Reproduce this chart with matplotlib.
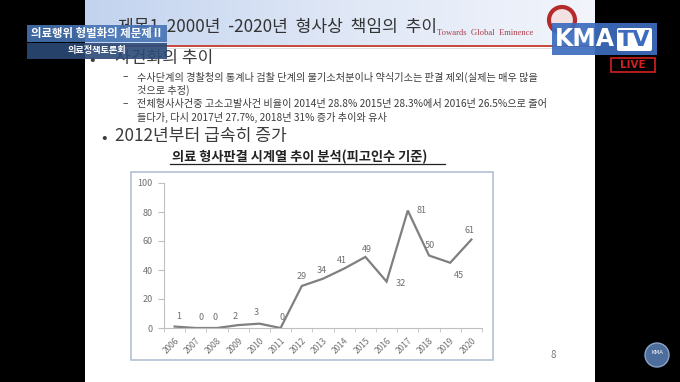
import numpy as np
import matplotlib
matplotlib.use('Agg')
import matplotlib.pyplot as plt
from matplotlib.patches import Rectangle, Circle, FancyBboxPatch
from matplotlib.colors import LinearSegmentedColormap

plt.rcParams['font.family'] = ['Noto Sans CJK KR', 'DejaVu Sans']

years = ['2006', '2007', '2008', '2009', '2010', '2011', '2012', '2013',
         '2014', '2015', '2016', '2017', '2018', '2019', '2020']
cases = [1, 0, 0, 2, 3, 0, 29, 34, 41, 49, 32, 81, 50, 45, 61]
y_ticks = [0, 20, 40, 60, 80, 100]

chart_title = '의료 형사판결 시계열 추이 분석(피고인수 기준)'
slide_title = '제목1  2000년  -2020년  형사상  책임의  추이'
bullet1 = '사건화의 추이'
sub_lines = [
    '수사단계의 경찰청의 통계나 검찰 단계의 불기소처분이나 약식기소는 판결 제외(실제는 매우 많을',
    '것으로 추정)',
    '전체형사사건중 고소고발사건 비율이 2014년 28.8% 2015년 28.3%에서 2016년 26.5%으로 줄어',
    '들다가, 다시 2017년 27.7%, 2018년 31% 증가 추이와 유사',
]
bullet2 = '2012년부터 급속히 증가'

# label offsets in pixels (dx, dy), dy positive = downwards
label_offsets = [(4, -10), (5, -10), (-2, -10), (-3, -9), (-3, -11), (1, -10),
                 (0, -9), (-1, -8), (-2, -8), (1, -7), (14, 2), (14, 0),
                 (1, -10), (9, 13), (-2, -9)]

W, H = 680, 382
fig = plt.figure(figsize=(W / 100, H / 100), dpi=100)
fig.patch.set_facecolor('black')

bg = fig.add_axes([0, 0, 1, 1])
bg.set_xlim(0, W)
bg.set_ylim(H, 0)
bg.axis('off')

# slide background
bg.add_patch(Rectangle((85, 0), 510, H, facecolor='white', edgecolor='none', zorder=0))
grad = np.linspace(0, 1, 256).reshape(1, -1)
hdr_cmap = LinearSegmentedColormap.from_list('hdr', ['#c2d3ef', '#dfe7f6', '#f2f5fb'])
bg.imshow(grad, cmap=hdr_cmap, extent=[85, 595, 45, 0], aspect='auto', zorder=1)
bg.plot([85, 595], [46, 46], color='#c0392b', lw=1.3, zorder=2)
bg.plot([85, 595], [48, 48], color='#d8d8d8', lw=0.6, zorder=2)

# header text
bg.text(118, 27, slide_title, fontsize=12.3, color='#333333', va='center', zorder=3)
bg.text(437, 33, 'Towards  Global  Eminence', fontsize=6.2, color='#a8404c',
        family='Liberation Serif', va='center', zorder=3)
bg.add_patch(Circle((562, 20), 13, facecolor='#f4e2e2', edgecolor='#b52b2b', lw=3, zorder=3))

# body text
body = '#3c3c3c'
bg.text(89, 60, '•', fontsize=12, color=body, va='center', zorder=3)
bg.text(115, 58, bullet1, fontsize=12.3, color=body, va='center', zorder=3)
for yy, txt, dash in zip([77, 90, 104, 117], sub_lines, [True, False, True, False]):
    if dash:
        bg.text(123, yy, '–', fontsize=7.3, color=body, va='center', zorder=3)
    bg.text(137, yy, txt, fontsize=7.3, color=body, va='center', zorder=3)
bg.text(101, 138, '•', fontsize=12, color=body, va='center', zorder=3)
bg.text(115, 136, bullet2, fontsize=12.3, color=body, va='center', zorder=3)

bg.text(300, 157, chart_title, fontsize=9.5, fontweight='bold', color='#222222',
        ha='center', va='center', zorder=3)
bg.plot([170, 445], [164, 164], color='#222222', lw=0.9, zorder=3)

# chart frame
bg.add_patch(Rectangle((131, 172), 362, 188, facecolor='white', edgecolor='#b4c0d6',
                       lw=1.2, zorder=2))
bg.text(553, 355, '8', fontsize=7, color='#777777', ha='center', va='center', zorder=3)

# overlays
bg.add_patch(Rectangle((27, 25), 140, 17, facecolor='#4573b3', alpha=0.9, edgecolor='none', zorder=5))
bg.text(97, 33.5, '의료행위 형벌화의 제문제Ⅱ', fontsize=8.2, fontweight='bold', color='white',
        ha='center', va='center', zorder=6)
bg.add_patch(Rectangle((27, 43), 140, 16, facecolor='#2b4a78', alpha=0.9, edgecolor='none', zorder=5))
bg.text(97, 50.5, '의료정책토론회', fontsize=6.6, fontweight='bold', color='white',
        ha='center', va='center', zorder=6)

bg.add_patch(Rectangle((552, 23), 105, 32, facecolor='#3d6cbf', alpha=0.92, edgecolor='none', zorder=5))
bg.text(585, 39.5, 'KMA', fontsize=17, fontweight='bold', color='white', family='DejaVu Sans',
        ha='center', va='center', zorder=6)
bg.add_patch(FancyBboxPatch((617, 28), 35, 23, boxstyle='round,pad=0,rounding_size=2',
                            facecolor='white', edgecolor='none', zorder=6))
bg.text(634.5, 39.5, 'TV', fontsize=16, fontweight='bold', color='#3d6cbf', family='DejaVu Sans',
        ha='center', va='center', zorder=7)
bg.add_patch(Rectangle((611, 58), 44, 14, facecolor='none', edgecolor='#d32020', lw=1.2, zorder=5))
bg.text(633, 65.5, 'LIVE', fontsize=7.5, fontweight='bold', color='#d32020', family='DejaVu Sans',
        ha='center', va='center', zorder=6)
bg.add_patch(Circle((657, 355), 12, facecolor='#4d6d9c', edgecolor='#8aa3c8', lw=1, zorder=5))
bg.text(657, 352, 'KMA', fontsize=4, color='white', family='DejaVu Sans',
        ha='center', va='center', zorder=6)

# chart axes
ax = fig.add_axes([164 / W, 1 - 328 / H, (482 - 164) / W, (328 - 183) / H])
ax.patch.set_alpha(0)
x = np.arange(len(years))
ax.plot(x, cases, color='#7f7f7f', lw=1.6, solid_joinstyle='miter')
for xi, v, (dx, dy) in zip(x, cases, label_offsets):
    ax.annotate(str(v), (xi, v), xytext=(dx * 0.72, -dy * 0.72), textcoords='offset points',
                ha='center', va='center', fontsize=6.5, color='#707070')

ax.set_xlim(-0.5, len(years) - 0.5)
ax.set_ylim(0, 100)
ax.set_yticks(y_ticks)
ax.set_yticklabels([str(t) for t in y_ticks])
ax.set_xticks(x)
ax.set_xticklabels(years, rotation=45, ha='right', rotation_mode='anchor')
ax.set_xticks(np.arange(-0.5, len(years)), minor=True)
ax.tick_params(axis='x', which='major', length=0, labelsize=6, labelcolor='#707070', pad=6)
ax.tick_params(axis='x', which='minor', length=3, color='#bfbfbf', direction='out')
ax.tick_params(axis='y', length=4, color='#bfbfbf', labelsize=6.5, labelcolor='#707070', pad=4)
for s in ['top', 'right']:
    ax.spines[s].set_visible(False)
for s in ['left', 'bottom']:
    ax.spines[s].set_color('#bfbfbf')
    ax.spines[s].set_linewidth(0.8)

fig.savefig('out.png', dpi=100, facecolor=fig.get_facecolor())
